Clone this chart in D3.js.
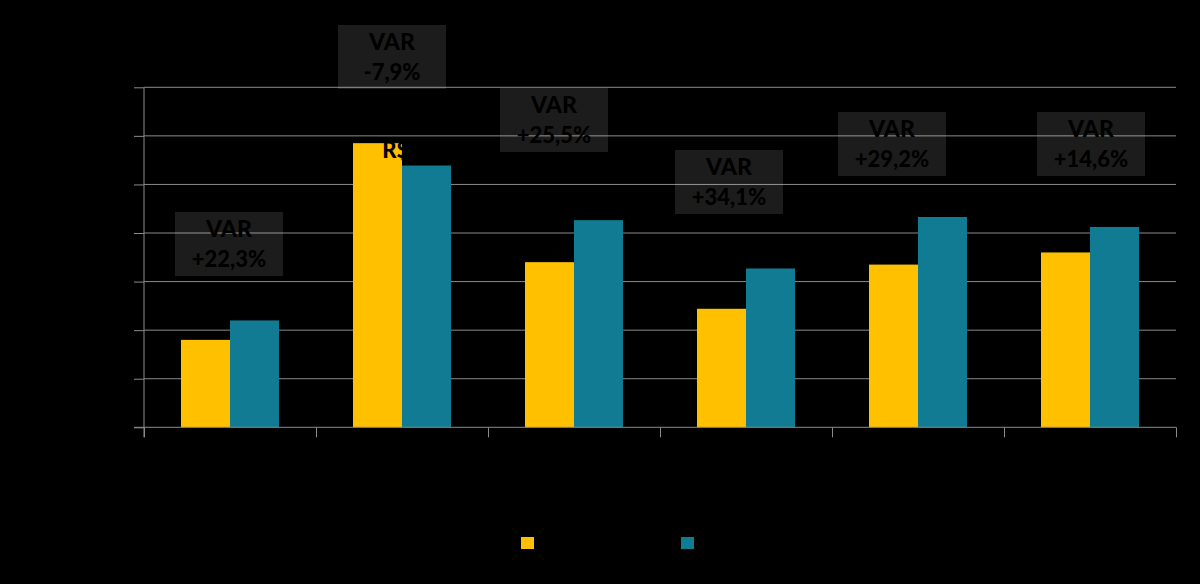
<!DOCTYPE html>
<html>
<head>
<meta charset="utf-8">
<script src="https://cdn.jsdelivr.net/npm/d3@7"></script>
<style>
  html, body { margin: 0; padding: 0; background: #000; }
  svg { display: block; }
  text { font-family: Lato, "Open Sans", sans-serif; font-weight: bold; }
</style>
</head>
<body>
<svg id="chart" width="1200" height="584"></svg>
<script>
// ---- data ----
const categories = ["Jan", "Fev", "Mar", "Abr", "Mai", "Jun"];
const seriesNames = ["2022", "2023"];
const values2022 = [360, 1170, 680, 488, 670, 720];
const values2023 = [440, 1078, 853, 654, 866, 825];
const varLabels = ["+22,3%", "-7,9%", "+25,5%", "+34,1%", "+29,2%", "+14,6%"];
const yTicks = [0, 200, 400, 600, 800, 1000, 1200, 1400];

// ---- layout (not data) ----
const boxDx = [-1, -10, -20, -17, -26, 1];      // box centre offset from category centre
const boxTop = [212, 25, 88, 150, 112, 112];     // box top in px
const colors = ["#FFC000", "#117B93"];

const svg = d3.select("#chart");
const plotL = 144, plotR = 1176, plotT = 87.3, plotB = 427.3;

const y = d3.scaleLinear().domain([0, 1400]).range([plotB, plotT]);
const x0 = d3.scaleBand().domain(categories).range([plotL, plotR]).padding(0);
const x1 = d3.scaleBand().domain(seriesNames).range([37, 135]).padding(0);
const xEdge = d3.scaleLinear().domain([0, categories.length]).range([plotL, plotR]);

const gridColor = "#8a8a8a";

// gridlines
svg.append("g").selectAll("line").data(yTicks.slice(1)).join("line")
  .attr("x1", plotL).attr("x2", plotR)
  .attr("y1", d => y(d)).attr("y2", d => y(d))
  .attr("stroke", gridColor).attr("stroke-width", 1);

// y axis
const yAxis = svg.append("g").attr("transform", `translate(${plotL},0)`)
  .call(d3.axisLeft(y).tickValues(yTicks).tickSize(10).tickPadding(6)
        .tickFormat(d => "R$ " + d3.format(",")(d).replace(/,/g, ".")));
yAxis.select(".domain").remove();
yAxis.selectAll(".tick line").attr("stroke", gridColor);
yAxis.selectAll("text").attr("fill", "#000").style("font-size", "16px");
svg.append("line").attr("x1", plotL).attr("x2", plotL).attr("y1", plotT).attr("y2", plotB + 10)
  .attr("stroke", gridColor);

// bars
const rows = categories.map((c, i) => ({ c, vals: [values2022[i], values2023[i]] }));
const groups = svg.append("g").selectAll("g").data(rows).join("g")
  .attr("transform", d => `translate(${x0(d.c)},0)`);
groups.selectAll("rect").data(d => d.vals.map((v, j) => ({ s: seriesNames[j], v, j })))
  .join("rect")
  .attr("x", d => x1(d.s)).attr("width", x1.bandwidth())
  .attr("y", d => y(d.v)).attr("height", d => y(0) - y(d.v))
  .attr("fill", d => colors[d.j]);

// x axis
const xAxis = svg.append("g").attr("transform", `translate(0,${plotB})`)
  .call(d3.axisBottom(xEdge).tickValues(d3.range(categories.length + 1)).tickSize(10).tickFormat(""));
xAxis.select(".domain").remove();
xAxis.selectAll(".tick line").attr("stroke", gridColor);
svg.append("line").attr("x1", plotL - 10).attr("x2", plotR).attr("y1", plotB).attr("y2", plotB)
  .attr("stroke", gridColor);

// category labels (black on black)
svg.append("g").selectAll("text").data(categories).join("text")
  .attr("x", d => x0(d) + x0.bandwidth() / 2).attr("y", plotB + 34)
  .attr("text-anchor", "middle").attr("fill", "#000").style("font-size", "18px").text(d => d);

// data labels for 2023 series (black text)
groups.append("text")
  .attr("x", x1(seriesNames[1]) + x1.bandwidth() / 2)
  .attr("y", (d, i) => y(values2023[i]) - 8)
  .attr("text-anchor", "middle").attr("fill", "#000")
  .style("font-size", "22px").style("font-weight", "900")
  .text((d, i) => "R$ " + d3.format(",")(values2023[i]).replace(/,/g, "."));

// VAR boxes
const boxes = svg.append("g").selectAll("g").data(categories).join("g")
  .attr("transform", (d, i) => `translate(${x0(d) + x0.bandwidth() / 2 + boxDx[i] - 54},${boxTop[i]})`);
boxes.append("rect").attr("width", 108).attr("height", 64)
  .attr("fill", "#fff").attr("fill-opacity", 0.11);
boxes.append("text").attr("x", 54).attr("y", 25).attr("text-anchor", "middle")
  .attr("fill", "#000").style("font-size", "23px").style("font-weight", "900").text("VAR");
boxes.append("text").attr("x", 54).attr("y", 55).attr("text-anchor", "middle")
  .attr("fill", "#000").style("font-size", "22px").style("font-weight", "900").text((d, i) => varLabels[i]);

// legend
const legendX = [521, 681];
const legend = svg.append("g").selectAll("g").data(seriesNames).join("g")
  .attr("transform", (d, i) => `translate(${legendX[i]},537)`);
legend.append("rect").attr("width", 13).attr("height", 12).attr("fill", (d, i) => colors[i]);
legend.append("text").attr("x", 19).attr("y", 11).attr("fill", "#000")
  .style("font-size", "16px").text(d => d);
</script>
</body>
</html>
